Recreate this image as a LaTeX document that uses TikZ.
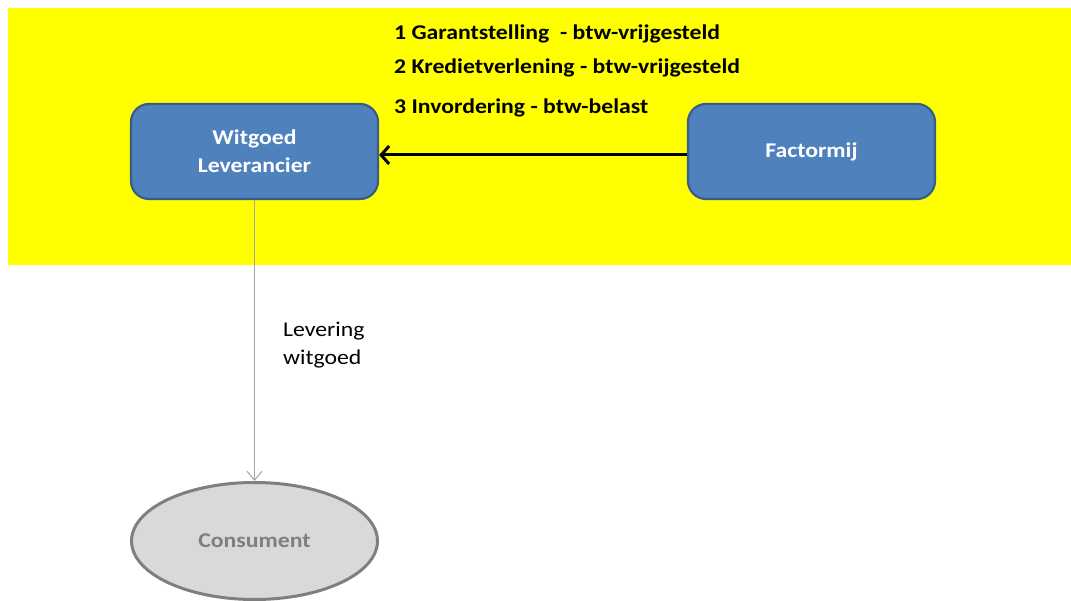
\documentclass[tikz,border=0pt]{standalone}
\usepackage{fontspec}
\setmainfont[FakeStretch=1.13]{Carlito}
\usetikzlibrary{shapes.geometric,arrows.meta}
\definecolor{boxfill}{HTML}{4F81BD}
\definecolor{boxdraw}{HTML}{385D8A}
\definecolor{ellfill}{HTML}{D9D9D9}
\definecolor{elldraw}{HTML}{7F7F7F}
\definecolor{bgyellow}{HTML}{FFFF00}
\definecolor{linegray}{HTML}{A6A6A6}
\tikzset{
  bluebox/.style={draw=boxdraw, line width=2.2pt, fill=boxfill, rounded corners=18pt,
    minimum width=247pt, minimum height=95pt, text=white, font=\bfseries\fontsize{21}{28}\selectfont,
    align=center, inner sep=0pt},
  consbox/.style={ellipse, draw=elldraw, line width=3pt, fill=ellfill, minimum width=246pt,
    minimum height=117pt, text=elldraw, font=\bfseries\fontsize{21}{24}\selectfont, inner sep=0pt},
  listtext/.style={anchor=base west, font=\bfseries\fontsize{21}{24}\selectfont, inner sep=0pt},
  labeltext/.style={anchor=base west, font=\fontsize{21}{28}\selectfont, align=left, inner sep=0pt}
}
\begin{document}
\begin{tikzpicture}[x=1pt,y=-1pt]
\useasboundingbox (0,0) rectangle (1071,601);
\fill[white] (0,0) rectangle (1071,601);
\fill[bgyellow] (8,8) rectangle (1071,265);
\node[bluebox] (lev) at (254.5,151.5) {Witgoed\\Leverancier};
\node[bluebox] (fac) at (811.5,151.5) {Factormij};
\node[consbox] (con) at (254.5,541) {Consument};
\node[listtext] (t1) at (394,40) {1 Garantstelling\ \ - btw-vrijgesteld};
\node[listtext] (t2) at (394,74) {2 Kredietverlening - btw-vrijgesteld};
\node[listtext] (t3) at (394,114) {3 Invordering - btw-belast};
\node[labeltext] (lbl) at (283,365) {Levering\\witgoed};
\draw[line width=3pt, -{Straight Barb[length=8pt,width=18pt]}] ([yshift=-3.5pt]fac.west) -- ([yshift=-3.5pt]lev.east);
\draw[draw=linegray, line width=1pt, -{Straight Barb[length=9pt,width=15pt]}] (lev.south) -- (con.north);
\end{tikzpicture}
\end{document}
